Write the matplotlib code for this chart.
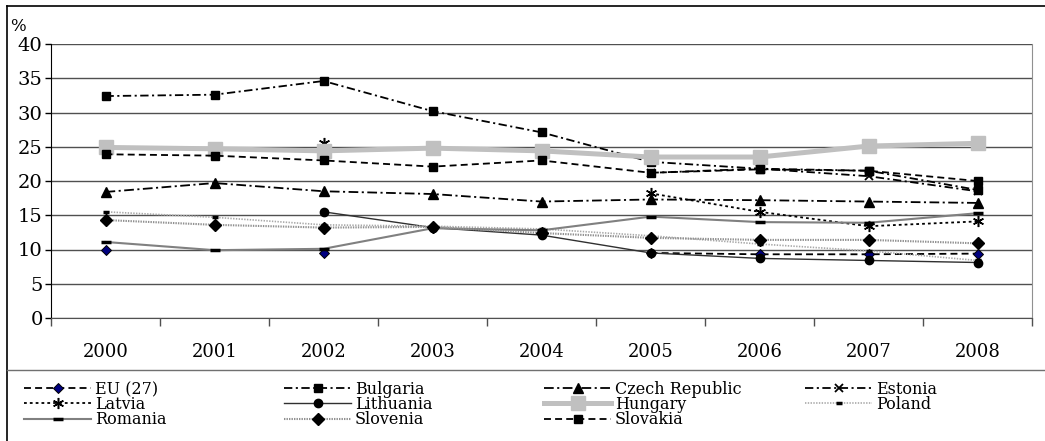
import numpy as np
import matplotlib
matplotlib.use("Agg")
import matplotlib.pyplot as plt
from matplotlib.lines import Line2D

plt.rcParams['font.family'] = ['DejaVu Serif']
plt.rcParams['lines.scale_dashes'] = False

nan = np.nan
years = ['2000', '2001', '2002', '2003', '2004', '2005', '2006', '2007', '2008']

# values, %
eu27 = [10.0, nan, 9.5, nan, nan, 9.5, 9.3, 9.3, 9.4]
bulgaria = [32.4, 32.6, 34.6, 30.2, 27.1, 22.8, 21.8, 21.5, 18.7]
czech = [18.4, 19.7, 18.5, 18.1, 17.0, 17.3, 17.2, 17.0, 16.8]
estonia = [nan, nan, nan, nan, nan, 21.2, 21.8, 20.7, 18.5]
latvia = [nan, nan, 25.6, nan, nan, 18.2, 15.5, 13.4, 14.1]
lithuania = [nan, nan, 15.5, 13.2, 12.1, 9.5, 8.7, 8.4, 8.1]
hungary = [24.9, 24.7, 24.4, 24.8, 24.4, 23.5, 23.5, 25.1, 25.5]
poland = [15.5, 14.7, 13.6, 13.4, 13.0, 12.0, 10.8, 9.8, 8.4]
romania = [11.1, 9.9, 10.1, 13.1, 12.8, 14.8, 14.0, 13.9, 15.3]
slovenia = [14.3, 13.6, 13.2, 13.3, 12.4, 11.7, 11.4, 11.4, 10.9]
slovakia = [23.9, 23.7, 23.0, 22.1, 23.0, 21.2, 21.7, 21.5, 20.0]

W, H = 1045, 441
fig = plt.figure(figsize=(W / 100, H / 100), dpi=100)
ax = fig.add_axes([51 / W, 1 - 318 / H, (1032 - 51) / W, (318 - 44) / H])

x = np.arange(len(years))

# (label, values, style) - Excel series order, later ones drawn on top
series = [
    ('EU (27)', eu27, dict(color='black', lw=1.3, ls=(0, (5, 3)),
                           marker='D', ms=5, mfc='#000080', mec='black', mew=0.7)),
    ('Bulgaria', bulgaria, dict(color='black', lw=1.3, ls=(0, (6, 2.5, 1.5, 2.5)),
                                marker='s', ms=6, mfc='black', mec='black')),
    ('Czech Republic', czech, dict(color='black', lw=1.3, ls=(0, (7, 2.5, 1.5, 2.5)),
                                   marker='^', ms=7, mfc='black', mec='black')),
    ('Estonia', estonia, dict(color='black', lw=1.3, ls=(0, (6, 2.5, 1.5, 2.5)),
                              marker='x', ms=6, mec='black', mew=1.3)),
    ('Latvia', latvia, dict(color='black', lw=1.3, ls=(0, (2, 2.2)),
                            marker=(6, 2, 0), ms=8, mec='black', mew=1.1)),
    ('Lithuania', lithuania, dict(color='#303030', lw=1.0, ls='-',
                                  marker='o', ms=6, mfc='black', mec='black')),
    ('Hungary', hungary, dict(color='#C0C0C0', lw=3.6, ls='-',
                              marker='s', ms=10, mfc='#C0C0C0', mec='#C0C0C0')),
    ('Poland', poland, dict(color='#A8A8A8', lw=1.2, ls=(0, (1, 1)),
                            marker='_', ms=4.5, mec='black', mew=2.5)),
    ('Romania', romania, dict(color='#808080', lw=1.5, ls='-',
                              marker='_', ms=7, mec='black', mew=2.5)),
    ('Slovenia', slovenia, dict(color='#909090', lw=1.5, ls=(0, (1, 0.8)),
                                marker='D', ms=6, mfc='black', mec='black')),
    ('Slovakia', slovakia, dict(color='black', lw=1.3, ls=(0, (5, 3)),
                                marker='s', ms=6, mfc='black', mec='black')),
]

handles = {}
for label, vals, st in series:
    line, = ax.plot(x, vals, label=label, **st)
    handles[label] = line

ax.set_xlim(-0.5, len(years) - 0.5)
ax.set_ylim(0, 40)
ax.set_yticks(range(0, 41, 5))
ax.tick_params(axis='y', labelsize=14, length=4, width=1, pad=2, direction='out')
ax.set_xticks(x)
ax.set_xticklabels(years)
ax.set_xticks(np.arange(-0.5, len(years), 1), minor=True)
ax.tick_params(axis='x', which='major', length=0, labelsize=13, pad=18)
ax.tick_params(axis='x', which='minor', length=6, width=1, color='#505050')
ax.yaxis.grid(True, color='#505050', lw=1)
ax.set_axisbelow(True)
ax.spines['top'].set_visible(False)
ax.spines['right'].set_color('#909090')
ax.spines['left'].set_color('black')
ax.spines['bottom'].set_color('#505050')

fig.text(10 / W, 1 - 31 / H, '%', fontsize=12, va='baseline', ha='left')

# outer frame and separator above the legend
fig.add_artist(Line2D([7 / W, 7 / W], [0, 1 - 6 / H], color='black', lw=1.2,
                      transform=fig.transFigure))
fig.add_artist(Line2D([7 / W, 1], [1 - 6 / H, 1 - 6 / H], color='black', lw=1.2,
                      transform=fig.transFigure))
fig.add_artist(Line2D([7 / W, 1], [1 - 370 / H, 1 - 370 / H], color='#707070', lw=1,
                      transform=fig.transFigure))

# legend: four columns, filled row by row
cols = [['EU (27)', 'Latvia', 'Romania'],
        ['Bulgaria', 'Lithuania', 'Slovenia'],
        ['Czech Republic', 'Hungary', 'Slovakia'],
        ['Estonia', 'Poland']]
col_x = [24, 284, 544, 805]
for names, cx in zip(cols, col_x):
    fig.legend([handles[n] for n in names], names, loc='upper left',
               bbox_to_anchor=(cx / W, 1 - 381 / H), frameon=False,
               fontsize=11.5, handlelength=4.2, handletextpad=0.25,
               labelspacing=-0.12, borderpad=0, borderaxespad=0, numpoints=1)

fig.savefig('out.png', dpi=100)
